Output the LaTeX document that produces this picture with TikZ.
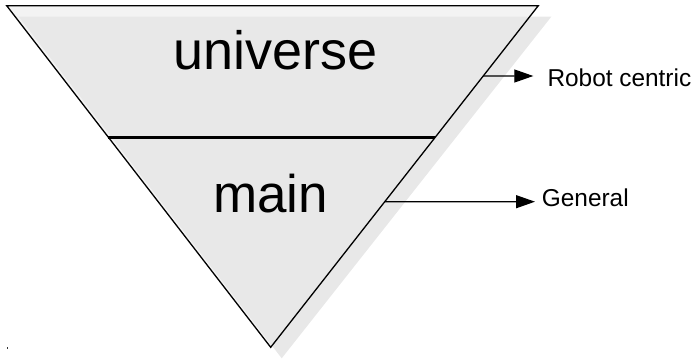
\documentclass[tikz,border=0pt]{standalone}
\usepackage{fontspec}
\setmainfont{Liberation Sans}
\usetikzlibrary{calc,arrows.meta}
\definecolor{bandgray}{HTML}{F3F3F3}
\definecolor{shadowgray}{HTML}{E8E8E8}
\tikzset{
  edgeline/.style={line width=1.3pt, black},
  divline/.style={line width=2.6pt, black},
  pointer/.style={line width=1.2pt, -{Triangle[length=19pt,width=13pt]}},
  biglabel/.style={inner sep=0pt, anchor=base, font=\fontsize{54}{60}\selectfont},
  sidelabel/.style={inner sep=0pt, anchor=base west, font=\fontsize{24.4}{28}\selectfont},
}
\begin{document}
\begin{tikzpicture}[x=1pt,y=-1pt]
\useasboundingbox (0,0) rectangle (696,361);
% corners
\coordinate (tl) at (6.7,5.7);
\coordinate (tr) at (538.3,5.7);
\coordinate (ap) at (270.7,347.3);
% main fill
\fill[bandgray] (tl) -- (tr) -- (ap) -- cycle;
% shadow
\fill[shadowgray] ($(tl)+(12,11)$) -- ($(tr)+(13,11)$) -- ($(ap)+(11,11)$) -- cycle;
% outline
\draw[edgeline, line join=miter] (tl) -- (tr) -- (ap) -- cycle;
% divider
\coordinate (dl) at ($(tl)!0.385!(ap)$);
\coordinate (dr) at ($(tr)!0.385!(ap)$);
\draw[divline] (dl) -- (dr);
% texts
\node[biglabel] (universe) at (275.5,70) {universe};
\node[biglabel, font=\fontsize{53}{60}\selectfont] (main) at (270.5,212.7) {main};
\node[sidelabel] (rc) at (547.3,86.7) {Robot centric};
\node[sidelabel] (gen) at (541.7,206.7) {General};
% connectors
\coordinate (rcs) at ($(tr)!0.2058!(ap)$);
\coordinate (rce) at (533.3,76);
\draw[pointer] (rcs) -- (rce);
\coordinate (gens) at ($(tr)!0.5738!(ap)$);
\coordinate (gene) at (535,201.7);
\draw[pointer] (gens) -- (gene);
% small mark
\fill[black!80] (6.8,346.5) rectangle (7.8,349);
\end{tikzpicture}
\end{document}
